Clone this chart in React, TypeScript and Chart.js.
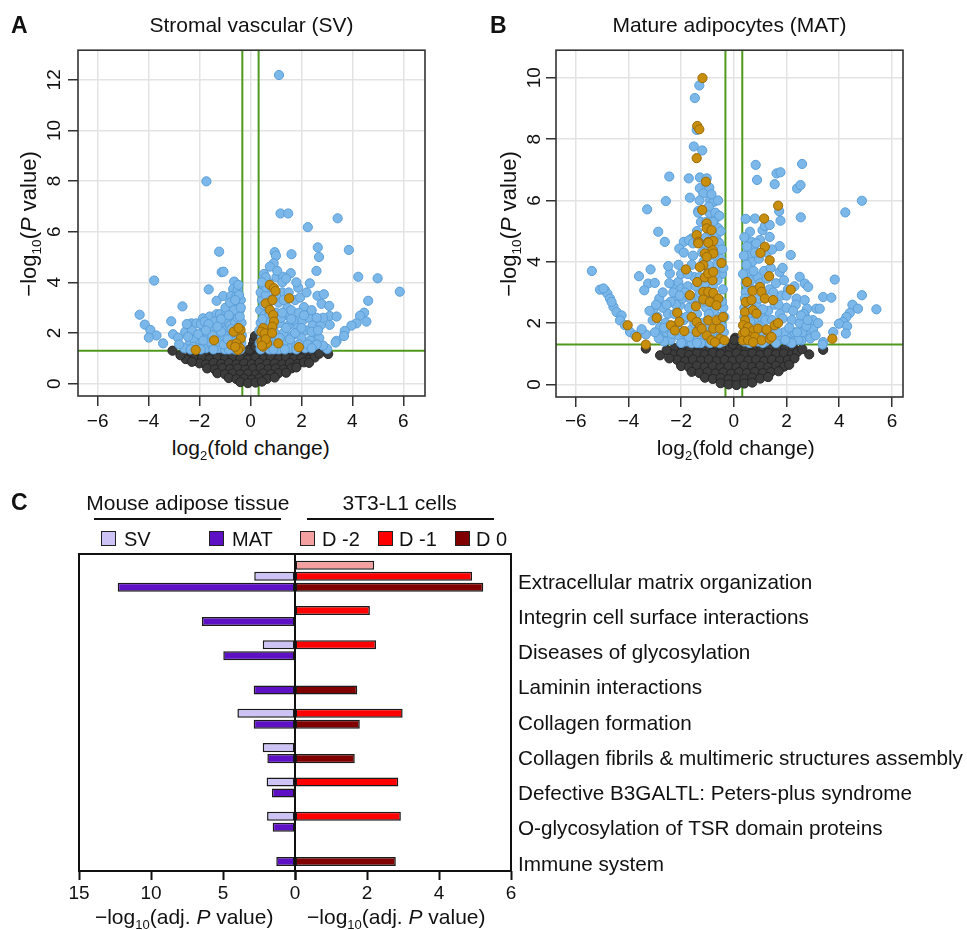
import React, { useEffect, useRef } from 'react';
import { Chart, registerables } from 'chart.js';

Chart.register(...registerables);

const FONT = '"Liberation Sans", Arial, Helvetica, sans-serif';
Chart.defaults.font.family = FONT;
Chart.defaults.color = '#111';

type P = [number, number];

// ---------------- volcano data ----------------
const foldChangeCut = 0.32;
const pValueCut = 1.3;
const volcanoXTicks = [-6, -4, -2, 0, 2, 4, 6];
const svYTicks = [0, 2, 4, 6, 8, 10, 12];
const matYTicks = [0, 2, 4, 6, 8, 10];

const svNotSignificant: P[] = [
  [-2.35,1.18],[-2.05,1.22],[-1.75,1.15],[-1.45,1.21],[-1.15,1.17],[-0.85,1.22],[-0.55,1.16],[-0.25,1.2],[0.05,1.15],[0.35,1.21],[0.65,1.17],[0.95,1.22],[1.25,1.15],[1.55,1.2],[1.85,1.16],[2.15,1.21],[2.4,1.14],
  [-2.2,0.98],[-1.9,1.02],[-1.6,0.96],[-1.3,1.01],[-1.0,0.97],[-0.7,1.03],[-0.4,0.99],[-0.1,0.95],[0.2,1.02],[0.5,0.97],[0.8,1.01],[1.1,0.96],[1.4,1.03],[1.7,0.98],[2.0,1.0],[2.3,0.95],
  [-2.0,0.8],[-1.75,0.76],[-1.45,0.82],[-1.15,0.78],[-0.85,0.81],[-0.55,0.76],[-0.25,0.8],[0.05,0.77],[0.35,0.82],[0.65,0.78],[0.95,0.8],[1.25,0.76],[1.55,0.81],[1.85,0.78],[2.1,0.84],
  [-1.7,0.6],[-1.4,0.56],[-1.1,0.61],[-0.8,0.57],[-0.5,0.6],[-0.2,0.55],[0.1,0.59],[0.4,0.62],[0.7,0.57],[1.0,0.6],[1.3,0.56],[1.6,0.6],[1.8,0.64],
  [-1.3,0.41],[-1.0,0.37],[-0.7,0.4],[-0.4,0.36],[-0.1,0.39],[0.2,0.35],[0.5,0.4],[0.8,0.37],[1.1,0.41],[1.4,0.43],
  [-0.85,0.22],[-0.55,0.18],[-0.25,0.2],[0.05,0.16],[0.35,0.21],[0.65,0.19],[0.95,0.24],
  [-0.4,0.06],[-0.1,0.02],[0.2,0.04],[0.45,0.08],
  [0.05,1.38],[0.1,1.55],[0.14,1.72],[0.18,1.88],[-0.05,1.34],[0.2,1.45],
  [-3.06,1.3],[-2.54,0.97],[3.05,1.17],[2.52,1.03],[-2.75,1.12],[2.7,1.18],[-2.3,0.86],[2.3,0.82],
];

const svSignificant: P[] = [
  [-1.73,7.99],[-1.23,5.21],[-1.13,4.4],[-1.06,4.42],[-3.78,4.07],[-0.64,4.03],[-1.64,3.72],[-0.68,3.74],[-1.33,3.27],[-1.07,3.46],[-0.77,3.46],[-0.55,3.46],[-0.65,3.12],[-0.45,3.12],[-2.67,3.05],[-4.35,2.72],[-4.15,2.33],[-3.93,2.12],[-3.69,1.9],[-3.99,1.82],[-3.43,1.59],[-3.11,2.46],[-3.04,1.95],[-2.84,1.81],[-2.56,2.05],[-2.32,2.38],[-2.12,2.38],[-1.86,2.58],[-1.6,2.65],[-1.33,2.74],[-1.2,2.74],[-0.94,2.84],
  [-2.4,1.55],[-2.2,1.75],[-2.0,1.55],[-1.9,2.0],[-1.75,1.4],[-1.7,1.85],[-1.55,2.2],[-1.5,1.5],[-1.35,2.0],[-1.25,1.4],[-1.2,2.3],[-1.1,1.75],[-1.0,2.1],[-0.95,1.45],[-0.9,2.5],[-0.85,1.9],[-0.8,2.3],[-0.75,1.6],[-0.7,2.7],[-0.6,1.35],[-0.6,2.4],[-0.55,1.8],[-0.5,2.6],[-0.45,1.5],[-0.42,2.9],[-0.4,2.0],[-0.38,3.3],[-0.36,1.6],[-0.5,3.7],[-0.45,3.5],[-2.1,1.4],[-2.3,2.1],[-1.95,2.35],[-1.6,1.65],[-1.4,2.45],[-1.15,2.55],[-0.98,3.0],[-0.8,3.2],[-0.7,2.0],[-2.6,1.4],[-2.8,1.55],[-1.8,2.45],[-1.45,1.35],[-1.0,1.35],[-0.85,1.35],[-0.55,1.35],[-0.5,2.2],[-0.65,2.9],[-0.35,2.4],[-0.34,1.9],
  [-2.45,1.85],[-2.25,1.45],[-2.05,1.95],[-1.85,1.7],[-1.65,2.35],[-1.5,1.9],[-1.3,1.65],[-1.15,2.05],[-1.05,1.55],[-0.9,1.75],[-0.75,2.15],[-0.65,1.55],[-0.55,2.05],[-0.4,1.35],[-0.42,2.65],[-0.6,3.3],[-0.85,2.7],[-1.3,2.25],[-1.75,2.1],[-2.5,2.35],[-1.95,1.35],[-2.35,1.35],[-0.38,3.0],[-0.48,3.9],
  [1.12,12.19],[1.18,6.72],[1.48,6.72],[3.42,6.53],[2.25,6.18],[2.64,5.38],[2.69,5.0],[3.86,5.28],[0.95,5.19],[1.0,5.05],[1.61,5.11],[0.91,4.75],[0.76,4.62],[0.53,4.33],[1.02,4.2],[1.28,4.22],[1.58,4.36],[2.59,4.45],[2.33,3.96],[1.87,3.79],[4.23,4.22],[4.99,4.16],[5.86,3.63],[2.63,3.47],[2.88,3.53],[2.79,3.15],[3.09,3.07],[4.62,3.27],[4.46,2.8],[4.3,2.68],[4.55,2.45],[4.16,2.38],[3.96,2.29],[3.7,2.08],[3.38,1.69],[3.01,1.37],[3.11,2.67],[3.38,2.65],[3.11,2.32],[3.67,1.88],[3.34,1.62],[2.1,3.02],[2.33,2.78],
  [0.4,1.4],[0.45,1.8],[0.4,2.4],[0.38,2.9],[0.45,3.3],[0.4,3.6],[0.5,3.9],[0.6,3.5],[0.55,2.7],[0.6,1.5],[0.7,2.0],[0.75,1.35],[0.65,2.5],[0.7,3.0],[0.8,3.3],[0.85,1.7],[0.9,2.2],[0.95,1.4],[1.0,2.8],[1.05,1.9],[1.1,3.2],[1.15,2.4],[1.2,1.5],[1.25,3.6],[1.3,2.0],[1.35,2.7],[1.4,1.6],[1.45,3.0],[1.5,2.3],[1.55,1.4],[1.6,2.9],[1.65,1.9],[1.7,2.5],[1.75,3.3],[1.8,1.5],[1.85,2.2],[1.9,2.8],[2.0,1.8],[2.05,2.5],[2.15,1.4],[2.2,2.1],[2.3,2.6],[2.35,1.7],[2.45,2.3],[2.5,1.5],[2.55,2.0],[2.7,1.8],[2.75,2.3],[2.85,1.5],[2.4,2.9],[1.95,3.4],[1.25,4.0],[1.4,4.15],[0.7,4.0],[0.8,3.8],[2.2,3.6],[2.85,2.6],[2.6,2.6],[1.1,1.35],[0.5,1.55],[0.35,2.1],
  [0.36,1.6],[0.5,2.0],[0.48,2.55],[0.52,3.1],[0.62,3.8],[0.68,1.7],[0.8,2.45],[0.95,2.0],[1.0,3.5],[1.15,1.8],[1.2,2.6],[1.3,3.3],[1.4,2.2],[1.55,1.75],[1.6,2.55],[1.75,2.0],[1.9,1.55],[2.0,2.2],[2.1,2.7],[2.25,1.55],[2.4,2.05],[2.6,1.55],[2.65,2.1],[1.05,4.45],[0.6,4.2],[0.45,4.0],[1.5,3.6],[1.8,4.0],[0.4,1.35],[0.9,1.35],[1.35,1.35],[1.8,1.35],[2.4,1.4],[0.75,2.75],[1.25,2.8],
];

const svHighlighted: P[] = [
  [-2.15,1.33],[-1.43,1.71],[-0.66,2.05],[-0.39,2.12],[-0.47,2.2],[-0.38,1.78],[-0.75,1.53],[-0.55,1.59],[-0.42,1.4],[-0.49,1.33],[-0.6,1.45],
  [0.76,3.9],[0.92,3.77],[0.98,3.66],[1.52,3.37],[0.6,3.17],[0.86,3.3],[0.76,2.91],[0.89,2.71],[0.92,2.45],[0.86,2.25],[0.5,2.19],[0.43,2.05],[0.56,1.99],[0.43,1.66],[0.5,1.46],[0.65,1.59],[1.09,1.59],[1.9,1.44],[0.85,2.0],[0.6,1.75],[0.45,1.5],
];

const matNotSignificant: P[] = [
  [-2.25,1.18],[-1.95,1.22],[-1.65,1.16],[-1.35,1.21],[-1.05,1.17],[-0.75,1.22],[-0.45,1.15],[-0.15,1.2],[0.15,1.16],[0.45,1.21],[0.75,1.17],[1.05,1.22],[1.35,1.15],[1.65,1.2],[1.95,1.17],[2.25,1.21],
  [-2.3,0.98],[-2.0,1.02],[-1.7,0.96],[-1.4,1.01],[-1.1,0.97],[-0.8,1.03],[-0.5,0.99],[-0.2,0.95],[0.1,1.02],[0.4,0.97],[0.7,1.01],[1.0,0.96],[1.3,1.03],[1.6,0.98],[1.9,1.01],[2.2,0.96],[2.4,1.05],
  [-2.15,0.8],[-1.85,0.76],[-1.55,0.82],[-1.25,0.78],[-0.95,0.81],[-0.65,0.76],[-0.35,0.8],[-0.05,0.77],[0.25,0.82],[0.55,0.78],[0.85,0.8],[1.15,0.76],[1.45,0.81],[1.75,0.78],[2.05,0.8],[2.3,0.85],
  [-2.0,0.6],[-1.7,0.56],[-1.4,0.61],[-1.1,0.57],[-0.8,0.6],[-0.5,0.55],[-0.2,0.59],[0.1,0.56],[0.4,0.61],[0.7,0.57],[1.0,0.6],[1.3,0.56],[1.6,0.61],[1.9,0.58],[2.1,0.64],
  [-1.6,0.41],[-1.3,0.37],[-1.0,0.4],[-0.7,0.36],[-0.4,0.39],[-0.1,0.35],[0.2,0.4],[0.5,0.37],[0.8,0.41],[1.1,0.37],[1.4,0.4],[1.7,0.43],
  [-1.1,0.22],[-0.8,0.18],[-0.5,0.21],[-0.2,0.17],[0.1,0.2],[0.4,0.18],[0.7,0.22],[1.0,0.19],[1.3,0.24],
  [-0.5,0.04],[-0.2,0.0],[0.1,-0.02],[0.4,0.03],[0.7,0.06],
  [0.0,1.38],[0.05,1.52],[-0.04,1.3],[0.02,1.45],
  [-3.34,1.17],[-2.8,0.95],[-2.55,1.12],[2.86,0.98],[3.39,1.13],[2.6,1.15],[-2.45,0.85],
];

const matSignificant: P[] = [
  [-1.31,9.75],[-1.48,9.34],[-1.41,8.3],[-1.52,7.76],[-1.2,7.63],[-2.45,6.78],[-1.71,6.72],[-1.29,6.75],[-1.03,6.72],[-1.29,6.4],[-1.03,6.45],[-0.93,6.42],[-1.16,6.23],[-1.67,6.09],[-2.58,5.98],[-3.29,5.71],[-0.9,6.0],[-0.77,5.95],[-1.35,5.66],[-0.91,5.58],[-0.72,5.38],[-2.87,4.98],[-2.62,4.65],[-1.9,4.65],[-1.6,4.76],[-1.48,4.65],[-0.66,4.87],[-0.6,4.65],[-2.07,4.43],
  [-5.39,3.7],[-5.08,3.09],[-4.89,3.07],[-4.8,2.96],[-4.7,2.8],[-4.57,2.53],[-4.45,2.36],[-4.26,2.25],[-4.32,2.09],[-4.13,1.93],[-3.94,1.71],[-3.75,1.6],[-3.34,1.63],[-4.95,3.13],[-4.64,2.69],
  [-3.6,3.53],[-3.16,3.75],[-3.25,3.29],[-3.0,3.31],[-3.4,3.07],[-2.83,2.8],[-3.06,2.42],[-3.08,2.09],[-2.8,1.87],[-2.74,1.55],[-2.43,3.62],[-2.49,3.86],[-2.3,3.24],[-2.11,3.34],[-1.98,3.13],[-2.26,2.71],[-2.05,2.58],[-2.05,2.2],[-1.79,1.55],[-1.6,1.44],
  [-0.4,1.4],[-0.45,1.9],[-0.4,2.5],[-0.42,3.1],[-0.45,3.6],[-0.5,4.1],[-0.55,4.6],[-0.6,5.1],[-0.7,5.6],[-0.85,6.2],[-0.5,1.65],[-0.55,2.2],[-0.6,2.8],[-0.62,3.4],[-0.65,3.9],[-0.68,4.4],[-0.75,4.9],[-0.8,5.3],[-0.7,1.5],[-0.75,2.4],[-0.8,3.2],[-0.85,3.7],[-0.9,4.5],[-0.95,5.8],[-1.0,1.4],[-1.0,2.1],[-1.05,2.5],[-1.1,3.3],[-1.15,4.0],[-1.2,4.6],[-1.25,5.3],[-1.3,6.0],[-1.35,1.5],[-1.4,2.3],[-1.45,2.8],[-1.5,3.5],[-1.55,4.2],[-1.6,1.8],[-1.7,2.5],[-1.75,3.2],[-1.8,1.4],[-1.9,2.1],[-1.95,2.8],[-2.0,3.6],[-2.1,1.6],[-2.2,2.6],[-2.3,1.9],[-2.4,1.45],[-2.5,2.3],[-2.55,1.7],[-2.65,1.4],[-2.7,2.5],[-1.25,1.35],[-0.9,1.35],[-0.55,1.35],[-1.6,1.35],[-2.0,1.35],[-1.1,1.85],[-1.3,3.0],[-0.95,3.9],[-1.05,4.8],[-1.4,5.0],[-1.6,3.9],[-2.3,3.0],[-2.6,2.0],[-0.45,2.7],[-0.38,1.7],[-0.36,2.2],[-1.7,4.7],[-1.9,4.3],
  [-0.4,3.8],[-0.45,4.4],[-0.5,5.0],[-0.55,5.5],[-0.6,6.0],[-0.65,2.05],[-0.7,3.6],[-0.75,4.2],[-0.8,1.75],[-0.85,2.9],[-0.9,5.0],[-0.95,2.3],[-1.0,3.6],[-1.05,5.3],[-1.1,1.6],[-1.15,2.7],[-1.2,4.3],[-1.25,2.0],[-1.3,3.5],[-1.35,5.6],[-1.4,1.35],[-1.45,3.2],[-1.5,2.0],[-1.55,4.6],[-1.65,2.8],[-1.7,1.55],[-1.75,3.6],[-1.8,2.2],[-1.85,3.0],[-1.95,1.7],[-2.05,2.9],[-2.1,3.9],[-2.15,1.9],[-2.25,2.3],[-2.35,1.65],[-2.4,2.7],[-2.45,3.3],[-2.55,2.6],[-2.65,1.85],[-2.7,3.0],[-2.85,1.5],[-2.9,2.2],[-3.0,1.7],[-2.95,2.6],[-3.2,2.4],[-3.5,1.8],
  [0.83,7.16],[0.88,6.67],[1.62,6.88],[1.77,6.92],[2.59,7.19],[1.55,6.53],[2.4,6.39],[2.53,6.5],[4.86,5.99],[4.23,5.61],[1.72,5.65],[2.54,5.45],[1.77,5.34],[0.8,5.41],[1.09,5.03],[1.18,5.17],[1.36,5.2],[0.61,4.98],[0.67,4.65],[0.99,4.71],[1.36,4.81],[0.76,4.54],[1.74,4.51],[2.16,4.22],[2.5,3.51],[2.69,3.29],[2.82,3.18],[1.74,3.67],[3.83,3.42],[3.39,2.85],[3.7,2.83],[4.86,2.91],[5.41,2.45],[4.5,2.6],[4.71,2.47],[4.4,2.33],[4.27,2.2],[4.14,2.04],[3.99,1.98],[4.3,1.9],[4.25,1.66],[3.77,1.71],[3.39,1.38],[3.37,1.3],[3.13,2.47],[3.26,2.47],[2.38,2.8],[2.69,2.75],[2.78,2.47],[2.69,2.25],[3.01,1.82],[2.76,1.6],[2.57,1.44],[2.19,1.55],
  [0.4,1.4],[0.38,1.9],[0.4,2.5],[0.45,3.0],[0.5,3.6],[0.55,4.2],[0.5,1.7],[0.55,2.3],[0.6,2.8],[0.65,3.4],[0.7,4.0],[0.75,4.5],[0.7,1.45],[0.8,2.1],[0.85,2.6],[0.9,3.5],[0.95,4.1],[1.0,1.55],[1.05,2.2],[1.1,2.9],[1.15,3.7],[1.2,1.4],[1.3,2.4],[1.35,3.1],[1.4,3.8],[1.5,1.8],[1.55,2.6],[1.6,3.3],[1.7,1.45],[1.75,2.3],[1.8,2.9],[1.85,3.8],[1.9,1.7],[2.0,2.5],[2.05,3.1],[2.1,1.4],[2.2,2.1],[2.3,1.7],[2.35,2.6],[2.45,1.45],[2.5,2.0],[2.6,1.7],[2.65,2.3],[2.9,1.5],[3.0,2.1],[1.25,4.3],[0.85,4.6],[1.45,4.4],[0.45,5.4],[1.9,3.4],[2.3,3.2],[1.1,1.35],[0.6,1.35],[1.6,1.35],[2.2,1.35],
  [0.36,1.6],[0.4,2.2],[0.42,2.8],[0.45,3.3],[0.48,3.9],[0.5,4.5],[0.6,1.55],[0.62,2.05],[0.65,2.55],[0.7,3.1],[0.75,3.7],[0.8,4.3],[0.9,1.4],[0.95,1.9],[0.95,2.8],[1.0,3.3],[1.1,2.45],[1.15,1.65],[1.2,2.1],[1.25,3.45],[1.4,1.55],[1.45,2.1],[1.5,3.0],[1.65,1.7],[1.7,2.6],[1.85,2.15],[1.95,1.45],[2.0,2.9],[2.1,1.85],[2.25,2.4],[2.4,1.7],[2.55,2.25],[2.75,1.9],[2.8,2.1],[3.1,1.6],[3.2,2.0],[0.35,3.6],[0.38,4.2],[0.4,4.8],
];

const matHighlighted: P[] = [
  [-1.19,9.99],[-1.39,8.43],[-1.31,8.32],[-1.41,7.38],[-1.06,6.61],[-1.2,5.69],[-1.03,5.25],[-1.03,5.09],[-0.85,5.03],[-1.41,4.87],[-1.35,4.65],[-0.97,4.65],[-0.78,4.68],[-0.81,4.38],
  [-4.03,1.93],[-3.69,1.55],[-3.34,1.3],[-2.93,2.17],[-2.39,1.93],[-2.24,1.76],[-1.88,1.74],[-2.07,2.04],[-2.15,2.34],[-1.82,3.75],[-1.67,2.91],[-1.44,2.55],[-1.39,3.34],[-1.1,3.49],[-0.81,3.4],[-1.16,3.02],[-0.97,3.02],[-0.78,2.98],[-1.16,2.77],[-0.91,2.69],[-0.59,2.8],[-0.66,2.58],
  [-1.6,2.2],[-1.41,2.04],[-1.29,1.87],[-0.97,2.09],[-0.66,2.09],[-0.41,2.2],[-0.78,1.82],[-0.53,1.82],[-1.41,1.71],[-1.03,1.6],[-0.85,1.44],[-0.53,1.49],[-0.36,1.44],[-0.72,1.38],[-1.22,1.82],
  [-1.1,4.27],[-0.78,4.27],[-1.03,4.16],[-0.47,3.96],[-1.16,3.89],[-1.29,3.83],[-0.97,3.62],[-0.78,3.67],[-1.35,4.6],[-0.97,4.62],
  [1.68,5.83],[1.15,5.41],[1.18,4.49],[1.01,4.29],[1.36,4.05],[1.34,3.53],[2.16,3.09],[0.5,3.34],[0.71,3.05],[0.99,3.18],[1.05,3.02],[0.45,2.69],[0.67,2.75],[1.18,2.8],[1.49,2.75],[0.42,2.36],[0.73,2.42],[0.86,2.31],[0.42,2.09],[0.35,1.93],[0.54,1.87],[0.73,1.76],[0.92,1.82],[1.24,1.76],[1.55,1.93],[1.68,2.0],[0.35,1.66],[0.54,1.6],[0.8,1.55],[1.05,1.44],[1.36,1.49],[0.35,1.44],[0.54,1.44],[0.73,1.38],[0.42,1.71],[3.74,1.49],[1.24,1.79],[1.43,1.55],
];

// ---------------- pathway enrichment data ----------------
const pathways = [
  'Extracellular matrix organization',
  'Integrin cell surface interactions',
  'Diseases of glycosylation',
  'Laminin interactions',
  'Collagen formation',
  'Collagen fibrils & multimeric structures assembly',
  'Defective B3GALTL: Peters-plus syndrome',
  'O-glycosylation of TSR domain proteins',
  'Immune system',
];
const adiposeSeries = ['SV', 'MAT'];
const cellSeries = ['D -2', 'D -1', 'D 0'];
const svEnrichment = [2.83, null, 2.24, null, 4.0, 2.24, 1.97, 1.94, null];
const matEnrichment = [12.31, 6.46, 4.98, 2.87, 2.87, 1.92, 1.6, 1.55, 1.3];
const dMinus2Enrichment = [2.2, null, null, null, null, null, null, null, null];
const dMinus1Enrichment = [4.92, 2.08, 2.25, null, 2.99, null, 2.87, 2.94, null];
const d0Enrichment = [5.23, null, null, 1.73, 1.8, 1.66, null, null, 2.8];
const adiposeTicks = [0, 5, 10, 15];
const cellTicks = [0, 2, 4, 6];

// ---------------- styles ----------------
const BLUE = '#7bb8e9';
const BLUE_EDGE = '#5b9ed8';
const ORANGE = '#c88e0d';
const ORANGE_EDGE = '#9a6a07';
const DARK = '#3c3c3c';
const DARK_EDGE = '#262626';
const GREEN = '#4f9a1e';
const GRID = '#e3e3e3';
const SV_COLOR = '#cdc3f5';
const MAT_COLOR = '#5d10c4';
const D2_COLOR = '#f5a0a0';
const D1_COLOR = '#ff0000';
const D0_COLOR = '#800000';
const BAR_EDGE = '#1a1a1a';
const adiposeColors = [SV_COLOR, MAT_COLOR];
const cellColors = [D2_COLOR, D1_COLOR, D0_COLOR];

const framePlugin = {
  id: 'frame',
  afterDraw(chart: any, _args: any, opts: any) {
    if (!opts || !opts.color) return;
    const { ctx, chartArea: a } = chart;
    ctx.save();
    ctx.strokeStyle = opts.color;
    ctx.lineWidth = opts.width;
    ctx.strokeRect(a.left, a.top, a.right - a.left, a.bottom - a.top);
    ctx.restore();
  },
};

const minus = (v: number) => (v < 0 ? '\u2212' + Math.abs(v) : String(v));
const toPts = (arr: P[]) => arr.map(([x, y]) => ({ x, y }));
const toBars = (vals: (number | null)[]) =>
  vals.map((v, i) => (v == null ? null : { x: v, y: i })).filter(Boolean);

function pointSet(label: string, data: P[], fill: string, edge: string) {
  return {
    label,
    data: toPts(data),
    backgroundColor: fill,
    borderColor: edge,
    borderWidth: 1,
    pointRadius: 4.6,
    pointHoverRadius: 4.6,
  };
}
function lineSet(label: string, data: { x: number; y: number }[]) {
  return {
    label,
    data,
    showLine: true,
    borderColor: GREEN,
    borderWidth: 2,
    pointRadius: 0,
    pointHoverRadius: 0,
    fill: false,
  };
}

function volcano(o: any) {
  return {
    type: 'scatter',
    data: {
      datasets: [
        pointSet('Highlighted', o.hi, ORANGE, ORANGE_EDGE),
        pointSet('Significant', o.sig, BLUE, BLUE_EDGE),
        pointSet('Not significant', o.ns, DARK, DARK_EDGE),
        lineSet('FC down', [{ x: -foldChangeCut, y: o.yMin - 1 }, { x: -foldChangeCut, y: o.yMax + 1 }]),
        lineSet('FC up', [{ x: foldChangeCut, y: o.yMin - 1 }, { x: foldChangeCut, y: o.yMax + 1 }]),
        lineSet('P cut', [{ x: o.xMin - 1, y: pValueCut }, { x: o.xMax + 1, y: pValueCut }]),
      ],
    },
    options: {
      animation: false,
      responsive: false,
      events: [],
      layout: { padding: { left: 0, right: o.padRight, top: 0, bottom: 0 } },
      plugins: {
        legend: { display: false },
        tooltip: { enabled: false },
        title: {
          display: true,
          text: o.title,
          fullSize: false,
          color: '#111',
          font: { family: FONT, size: 21, weight: 'normal' },
          padding: { top: 14, bottom: 11 },
        },
        frame: { color: '#333', width: 1.6 },
      },
      scales: {
        x: {
          type: 'linear',
          min: o.xMin,
          max: o.xMax,
          offset: false,
          afterBuildTicks: (s: any) => { s.ticks = volcanoXTicks.map((v) => ({ value: v })); },
          afterFit: (s: any) => { s.height = 40; s.paddingLeft = 0; s.paddingRight = 0; },
          grid: { color: GRID, lineWidth: 1.5, tickLength: 10, tickColor: '#333', tickWidth: 1.5 },
          border: { display: false },
          ticks: { font: { family: FONT, size: 19 }, color: '#111', padding: o.xPad, autoSkip: false, maxRotation: 0, callback: (v: number) => minus(v) },
        },
        y: {
          type: 'linear',
          min: o.yMin,
          max: o.yMax,
          offset: false,
          afterBuildTicks: (s: any) => { s.ticks = o.yTicks.map((v: number) => ({ value: v })); },
          afterFit: (s: any) => { s.width = o.yWidth; s.paddingTop = 0; s.paddingBottom = 0; },
          grid: { color: GRID, lineWidth: 1.5, tickLength: 10, tickColor: '#333', tickWidth: 1.5 },
          border: { display: false },
          ticks: { font: { family: FONT, size: 19 }, color: '#111', padding: o.yPad, autoSkip: false, minRotation: 90, maxRotation: 90, crossAlign: 'center', callback: (v: number) => minus(v) },
        },
      },
    },
    plugins: [framePlugin],
  };
}

const BAR_Y_MIN = -0.647;
const BAR_Y_MAX = 8.598;

function barSet(label: string, vals: (number | null)[], color: string) {
  return {
    label,
    data: toBars(vals),
    xAxisID: 'x',
    yAxisID: 'y',
    backgroundColor: color,
    borderColor: BAR_EDGE,
    borderWidth: 1.5,
    borderSkipped: false,
  };
}

function barConfig(side: 'left' | 'right') {
  const left = side === 'left';
  const datasets = left
    ? [
        { label: 'spacer', data: [] as any[], xAxisID: 'x', yAxisID: 'y' },
        barSet(adiposeSeries[0], svEnrichment, adiposeColors[0]),
        barSet(adiposeSeries[1], matEnrichment, adiposeColors[1]),
      ]
    : [
        barSet(cellSeries[0], dMinus2Enrichment, cellColors[0]),
        barSet(cellSeries[1], dMinus1Enrichment, cellColors[1]),
        barSet(cellSeries[2], d0Enrichment, cellColors[2]),
      ];
  const xTicks = left ? adiposeTicks : cellTicks;
  const scales: any = {
    x: {
      type: 'linear',
      reverse: left,
      min: 0,
      max: left ? 15 : 6,
      offset: false,
      afterBuildTicks: (s: any) => { s.ticks = xTicks.map((v) => ({ value: v })); },
      afterFit: (s: any) => { s.height = 49; s.paddingLeft = 0; s.paddingRight = 0; },
      grid: { drawOnChartArea: false, tickLength: 9, tickColor: '#111', tickWidth: 2 },
      border: { display: false },
      ticks: {
        font: { family: FONT, size: 19 },
        color: '#111',
        padding: 2,
        autoSkip: false,
        maxRotation: 0,
        callback: (v: number) => (left && v === 0 ? '' : String(v)),
      },
    },
    y: {
      type: 'linear',
      position: 'right',
      reverse: true,
      min: BAR_Y_MIN,
      max: BAR_Y_MAX,
      offset: false,
      display: false,
      afterBuildTicks: (s: any) => { s.ticks = pathways.map((_, i) => ({ value: i })); },
      grid: { display: false, offset: false },
    },
  };
  if (!left) {
    scales.pathway = {
      type: 'category',
      axis: 'y',
      labels: pathways,
      position: 'right',
      offset: true,
      afterFit: (s: any) => { s.width = 456; s.paddingTop = 0; s.paddingBottom = 0; },
      grid: { display: false, drawTicks: false },
      border: { display: false },
      ticks: {
        font: { family: FONT, size: 20.7 },
        color: '#111',
        padding: 7,
        labelOffset: 11.5,
        crossAlign: 'near',
        autoSkip: false,
      },
    };
  }
  return {
    type: 'bar',
    data: { datasets },
    options: {
      indexAxis: 'y',
      animation: false,
      responsive: false,
      events: [],
      layout: { padding: left ? { left: 79, right: 672, top: 14, bottom: 0 } : { left: 295, right: 0, top: 14, bottom: 0 } },
      datasets: { bar: { categoryPercentage: 0.962, barPercentage: 0.82 } },
      plugins: { legend: { display: false }, tooltip: { enabled: false }, frame: { color: '#111', width: 2 } },
      scales,
    },
    plugins: [framePlugin],
  };
}

const Sub = ({ children }: any) => (
  <span style={{ fontSize: '0.62em', position: 'relative', top: '0.35em' }}>{children}</span>
);

const Txt = ({ cx, cy, size = 21, bold = false, rotate = false, children }: any) => (
  <div
    style={{
      position: 'absolute',
      left: cx - 200,
      top: cy - 12,
      width: 400,
      height: 24,
      lineHeight: '24px',
      textAlign: 'center',
      fontSize: size,
      fontWeight: bold ? 700 : 400,
      whiteSpace: 'nowrap',
      transform: rotate ? 'rotate(-90deg)' : undefined,
    }}
  >
    {children}
  </div>
);

const Letter = ({ x, y, children }: any) => (
  <div style={{ position: 'absolute', left: x, top: y, lineHeight: '24px', fontSize: 23, fontWeight: 700 }}>{children}</div>
);

const LegendItem = ({ x, textX, color, label }: any) => (
  <>
    <div
      style={{
        position: 'absolute',
        left: x,
        top: 531,
        width: 15,
        height: 15,
        boxSizing: 'border-box',
        border: '1.5px solid #222',
        background: color,
      }}
    />
    <div style={{ position: 'absolute', left: textX, top: 526.5, lineHeight: '24px', fontSize: 20, whiteSpace: 'nowrap' }}>
      {label}
    </div>
  </>
);

export default function App() {
  const refA = useRef<HTMLCanvasElement>(null);
  const refB = useRef<HTMLCanvasElement>(null);
  const refCL = useRef<HTMLCanvasElement>(null);
  const refCR = useRef<HTMLCanvasElement>(null);

  useEffect(() => {
    const charts = [
      new Chart(refA.current as any, volcano({
        title: 'Stromal vascular (SV)', hi: svHighlighted, sig: svSignificant, ns: svNotSignificant,
        xMin: -6.77, xMax: 6.85, yMin: -0.49, yMax: 13.17, yTicks: svYTicks,
        yWidth: 78, padRight: 15, yPad: 3, xPad: 4,
      }) as any),
      new Chart(refB.current as any, volcano({
        title: 'Mature adipocytes (MAT)', hi: matHighlighted, sig: matSignificant, ns: matNotSignificant,
        xMin: -6.75, xMax: 6.42, yMin: -0.41, yMax: 10.9, yTicks: matYTicks,
        yWidth: 76, padRight: 17, yPad: 1, xPad: 3,
      }) as any),
      new Chart(refCL.current as any, barConfig('left') as any),
      new Chart(refCR.current as any, barConfig('right') as any),
    ];
    return () => charts.forEach((c) => c.destroy());
  }, []);

  return (
    <div
      style={{
        position: 'absolute',
        left: 0,
        top: 0,
        width: 967,
        height: 930,
        background: '#fff',
        fontFamily: FONT,
        color: '#111',
        overflow: 'hidden',
      }}
    >
      <canvas ref={refA} width={440} height={436} style={{ position: 'absolute', left: 0, top: 0 }} />
      <canvas ref={refB} width={440} height={437} style={{ position: 'absolute', left: 480, top: 0 }} />
      <canvas ref={refCL} width={967} height={380} style={{ position: 'absolute', left: 0, top: 540 }} />
      <canvas ref={refCR} width={967} height={380} style={{ position: 'absolute', left: 0, top: 540 }} />

      <Letter x={11} y={12.5}>A</Letter>
      <Letter x={490} y={12.5}>B</Letter>
      <Letter x={11} y={489.7}>C</Letter>

      <Txt cx={250.8} cy={448.3}>log<Sub>2</Sub>(fold change)</Txt>
      <Txt cx={735.8} cy={448.3}>log<Sub>2</Sub>(fold change)</Txt>
      <Txt cx={29} cy={224} size={22} rotate>{'\u2212'}log<Sub>10</Sub>(<i>P</i> value)</Txt>
      <Txt cx={509} cy={224} size={22} rotate>{'\u2212'}log<Sub>10</Sub>(<i>P</i> value)</Txt>

      <Txt cx={187.8} cy={503.3}>Mouse adipose tissue</Txt>
      <Txt cx={399.7} cy={503.3}>3T3-L1 cells</Txt>
      <div style={{ position: 'absolute', left: 94, top: 518, width: 187, height: 2, background: '#111' }} />
      <div style={{ position: 'absolute', left: 307, top: 518, width: 187, height: 2, background: '#111' }} />

      <LegendItem x={101} textX={124} color={adiposeColors[0]} label={adiposeSeries[0]} />
      <LegendItem x={209} textX={232} color={adiposeColors[1]} label={adiposeSeries[1]} />
      <LegendItem x={299.5} textX={322} color={cellColors[0]} label={cellSeries[0]} />
      <LegendItem x={377.5} textX={399} color={cellColors[1]} label={cellSeries[1]} />
      <LegendItem x={454.5} textX={476} color={cellColors[2]} label={cellSeries[2]} />

      <Txt cx={184.2} cy={917}>{'\u2212'}log<Sub>10</Sub>(adj. <i>P</i> value)</Txt>
      <Txt cx={396.3} cy={917}>{'\u2212'}log<Sub>10</Sub>(adj. <i>P</i> value)</Txt>
    </div>
  );
}
